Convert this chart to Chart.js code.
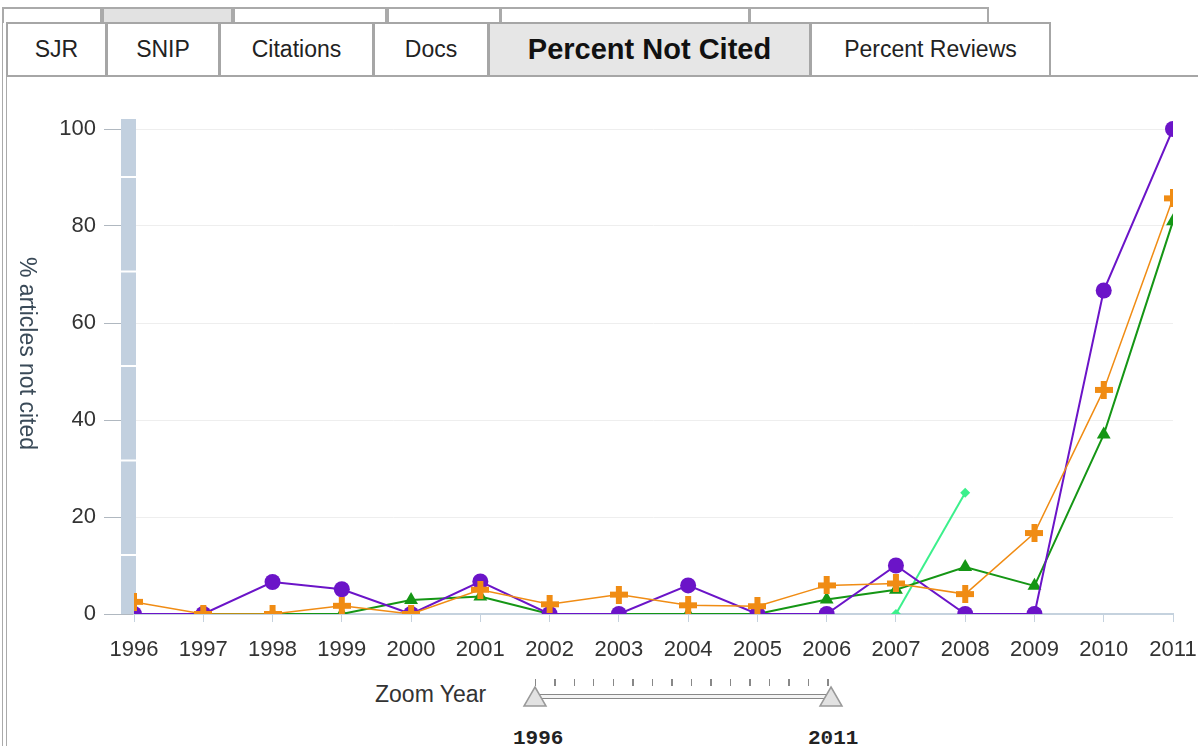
<!DOCTYPE html>
<html>
<head>
<meta charset="utf-8">
<script src="https://cdn.jsdelivr.net/npm/chart.js@4.4.0/dist/chart.umd.min.js"></script>
<style>
html, body { margin: 0; padding: 0; background: #fff; width: 1198px; height: 746px; overflow: hidden; }
body { position: relative; font-family: "Liberation Sans", Arial, sans-serif; color: #333; }
.back { position: absolute; top: 7px; height: 16px; box-sizing: border-box; border: 2px solid #aaa; border-bottom: none; background: #fff; }
.tab { position: absolute; top: 22px; height: 55px; box-sizing: border-box; border: 2px solid #a6a6a6; background: #fff;
       text-align: center; line-height: 51px; font-size: 23px; color: #222; }
.tab.on { background: #e6e6e6; font-weight: bold; font-size: 29px; color: #111; }
#chart { position: absolute; left: 0; top: 90px; }
#ytitle { position: absolute; left: 16px; top: 257px; writing-mode: vertical-rl; font-size: 23px; line-height: 24px; color: #3a4a58; }
.zl { position: absolute; font-size: 23px; color: #333; }
.yr { position: absolute; top: 727px; font-family: "Liberation Mono", monospace; font-weight: bold; font-size: 21px; color: #222; }
</style>
</head>
<body>
<div style="position:absolute;left:2px;top:8px;width:0;height:738px;border-left:1px solid #aaa"></div>
<div style="position:absolute;left:6px;top:22px;width:0;height:724px;border-left:1px solid #aaa"></div>

<div class="back" style="left:2px;width:100px"></div>
<div class="back" style="left:102px;width:131px;background:#e2e2e2"></div>
<div class="back" style="left:233px;width:154px"></div>
<div class="back" style="left:387px;width:114px"></div>
<div class="back" style="left:500px;width:250px"></div>
<div class="back" style="left:749px;width:240px"></div>

<div class="tab" style="left:6px;width:101px">SJR</div>
<div class="tab" style="left:106px;width:114px">SNIP</div>
<div class="tab" style="left:219px;width:155px">Citations</div>
<div class="tab" style="left:373px;width:116px">Docs</div>
<div class="tab on" style="left:488px;width:323px">Percent Not Cited</div>
<div class="tab" style="left:810px;width:241px">Percent Reviews</div>
<div style="position:absolute;left:1050px;top:75px;width:148px;height:0;border-top:2px solid #a6a6a6"></div>

<canvas id="chart" width="1215" height="580"></canvas>
<div id="ytitle">% articles not cited</div>

<div class="zl" style="left:375px;top:681px">Zoom Year</div>
<div style="position:absolute;left:535px;top:679px;width:294px;height:7px;background:repeating-linear-gradient(to right,#888 0 1px,transparent 1px 19.5px)"></div>
<div style="position:absolute;left:534px;top:694px;width:296px;height:3px;border-top:1px solid #888;border-bottom:1px solid #888;background:#f4f4f4"></div>
<svg style="position:absolute;left:522px;top:685px" width="26" height="24"><polygon points="13,2 24,21 2,21" fill="#e2e2e2" stroke="#999" stroke-width="1.5"/></svg>
<svg style="position:absolute;left:818px;top:685px" width="26" height="24"><polygon points="13,2 24,21 2,21" fill="#e2e2e2" stroke="#999" stroke-width="1.5"/></svg>
<div class="yr" style="left:513px">1996</div>
<div class="yr" style="left:808px">2011</div>

<script>
// years on the x axis
const years = ['1996', '1997', '1998', '1999', '2000', '2001', '2002', '2003',
               '2004', '2005', '2006', '2007', '2008', '2009', '2010', '2011'];
// % articles not cited, one array per line
const orangeSeries = [2.5, 0, 0, 1.7, 0, 5, 2, 4, 1.8, 1.6, 5.9, 6.3, 4.1, 16.7, 46.2, 85.7];
const purpleSeries = [0, 0, 6.6, 5.1, 0, 6.7, 0, 0, 5.9, 0, 0, 10, 0, 0, 66.7, 100];
const greenSeries = [0, 0, 0, 0, 2.9, 3.6, 0, 0, 0, 0, 3, 5, 9.7, 5.8, 37, 81];
const mintSeries = [null, null, null, null, null, null, null, null, null, null, null, 0, 25, null, null, null];
const yTicks = [0, 20, 40, 60, 80, 100];

// thick plus marker for the orange line
let plus = document.createElement('canvas');
plus.width = 18; plus.height = 18;
let pc = plus.getContext('2d');
pc.fillStyle = '#f08c14';
pc.fillRect(6, 0, 6, 18);
pc.fillRect(0, 6, 18, 6);

// grey band left of the plot, then clip markers at the left, right and bottom edges
const bandPlugin = {
    id: 'band',
    beforeDatasetsDraw(chart) {
        const {ctx, chartArea} = chart;
        const x0 = chartArea.left - 13, w = 15;
        const top = chartArea.top - 10, bottom = chartArea.bottom;
        ctx.save();
        ctx.fillStyle = '#c2d0df';
        ctx.fillRect(x0, top, w, bottom - top);
        ctx.fillStyle = '#fff';
        for (let yy = top + 57; yy < bottom; yy += 94.5) ctx.fillRect(x0, yy, w, 2);
        ctx.restore();
        ctx.save();
        ctx.beginPath();
        ctx.rect(chartArea.left, chartArea.top - 20, chartArea.right - chartArea.left, chartArea.bottom - chartArea.top + 20);
        ctx.clip();
    },
    afterDatasetsDraw(chart) {
        chart.ctx.restore();
    }
};

const font = {family: '"Liberation Sans", Arial, sans-serif', size: 22};

new Chart(document.getElementById('chart'), {
    type: 'line',
    data: {
        labels: years,
        datasets: [{
            label: 'orange',
            data: orangeSeries,
            borderColor: '#f08c14',
            borderWidth: 1.5,
            pointStyle: plus,
            clip: false
        },
        {
            label: 'purple',
            data: purpleSeries,
            borderColor: '#6b14c8',
            backgroundColor: '#6b14c8',
            borderWidth: 2,
            pointStyle: 'circle',
            pointRadius: 8,
            pointBorderWidth: 0,
            clip: false
        },
        {
            label: 'green',
            data: greenSeries,
            borderColor: '#159615',
            backgroundColor: '#159615',
            borderWidth: 2,
            pointStyle: 'triangle',
            pointRadius: 8,
            pointBorderWidth: 0,
            clip: false
        },
        {
            label: 'mint',
            data: mintSeries,
            borderColor: '#3cf08c',
            backgroundColor: '#3cf08c',
            borderWidth: 2,
            pointStyle: 'rectRot',
            pointRadius: 5,
            pointBorderWidth: 0,
            clip: false
        }]
    },
    options: {
        responsive: false,
        animation: false,
        layout: { padding: { top: 39, right: 42, left: 0, bottom: 0 } },
        plugins: {
            legend: { display: false },
            tooltip: { enabled: false }
        },
        scales: {
            x: {
                grid: { drawOnChartArea: false, tickLength: 8, tickColor: '#c5d2de' },
                border: { color: '#c5d2de', width: 2 },
                ticks: { color: '#333', font: font, padding: 15, maxRotation: 0, autoSkip: false },
                afterFit: s => { s.height = 56; }
            },
            y: {
                min: 0,
                max: 100,
                afterBuildTicks: s => { s.ticks = yTicks.map(v => ({value: v})); },
                grid: { color: '#eeeeee', tickColor: '#b0b8c0', tickLength: 30 },
                border: { display: false },
                ticks: { color: '#333', font: font, padding: 8 },
                afterFit: s => { s.width = 134; }
            }
        }
    },
    plugins: [bandPlugin]
});
</script>
</body>
</html>
